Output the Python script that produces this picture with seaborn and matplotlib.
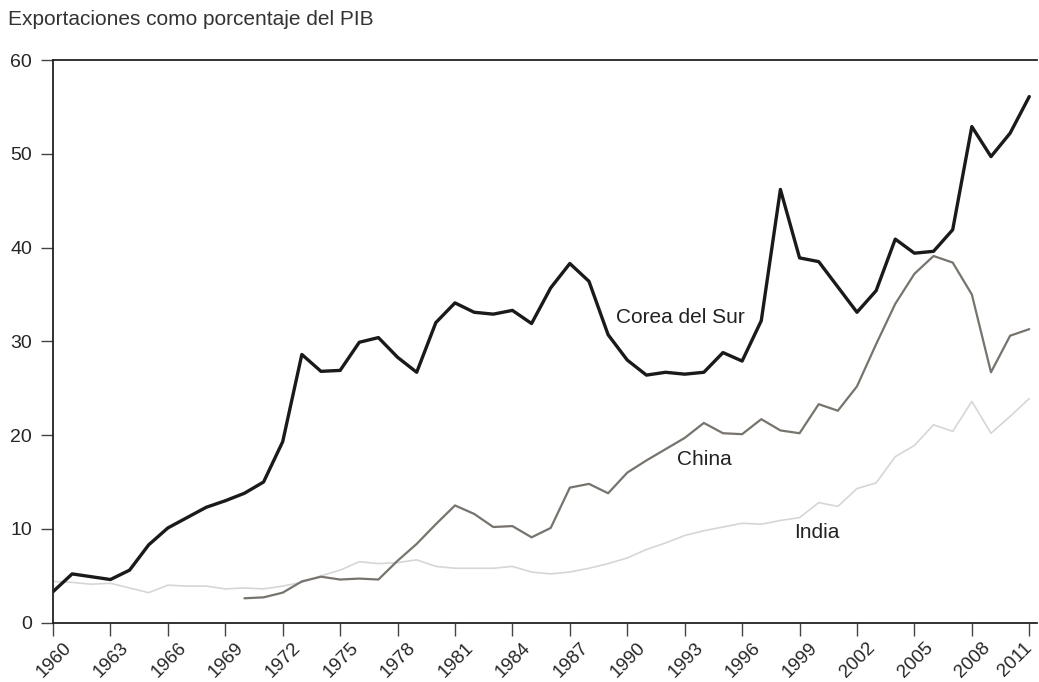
# Exportaciones como porcentaje del PIB: Corea del Sur, China, India

import pandas as pd
import numpy as np
import seaborn as sns
import matplotlib
matplotlib.use("Agg")
import matplotlib.pyplot as plt
from matplotlib.transforms import ScaledTranslation

# data
years = list(range(1960, 2012))

corea = [3.3, 5.2, 4.9, 4.6, 5.6, 8.3, 10.1, 11.2, 12.3, 13.0,
         13.8, 15.0, 19.3, 28.6, 26.8, 26.9, 29.9, 30.4, 28.3, 26.7,
         32.0, 34.1, 33.1, 32.9, 33.3, 31.9, 35.7, 38.3, 36.4, 30.7,
         28.0, 26.4, 26.7, 26.5, 26.7, 28.8, 27.9, 32.2, 46.2, 38.9,
         38.5, 35.8, 33.1, 35.4, 40.9, 39.4, 39.6, 41.9, 52.9, 49.7,
         52.2, 56.1]

china = [np.nan] * 10 + [
         2.6, 2.7, 3.2, 4.4, 4.9, 4.6, 4.7, 4.6, 6.6, 8.4,
         10.5, 12.5, 11.6, 10.2, 10.3, 9.1, 10.1, 14.4, 14.8, 13.8,
         16.0, 17.3, 18.5, 19.7, 21.3, 20.2, 20.1, 21.7, 20.5, 20.2,
         23.3, 22.6, 25.2, 29.7, 34.0, 37.2, 39.1, 38.4, 35.0, 26.7,
         30.6, 31.3]

india = [4.4, 4.3, 4.1, 4.2, 3.7, 3.2, 4.0, 3.9, 3.9, 3.6,
         3.7, 3.6, 3.9, 4.3, 5.0, 5.6, 6.5, 6.3, 6.4, 6.7,
         6.0, 5.8, 5.8, 5.8, 6.0, 5.4, 5.2, 5.4, 5.8, 6.3,
         6.9, 7.8, 8.5, 9.3, 9.8, 10.2, 10.6, 10.5, 10.9, 11.2,
         12.8, 12.4, 14.3, 14.9, 17.7, 18.9, 21.1, 20.4, 23.6, 20.2,
         22.0, 23.9]

tick_years = list(range(1960, 2009, 3)) + [2011]

df = pd.DataFrame({"year": years, "Corea del Sur": corea,
                   "China": china, "India": india})
long = df.melt(id_vars="year", var_name="pais", value_name="pct")

sns.set_style("white")
plt.rcParams["font.family"] = ["Liberation Sans", "DejaVu Sans"]

fig = plt.figure(figsize=(10.39, 6.82), dpi=100)
ax = fig.add_axes([0.051, 0.087, 0.947, 0.825])

colores = {"India": "#d6d6d6", "China": "#77736d", "Corea del Sur": "#1a1a1a"}
grosor = {"India": 1.2, "China": 1.6, "Corea del Sur": 2.4}
for pais in ["India", "China", "Corea del Sur"]:
    sns.lineplot(data=long[long.pais == pais], x="year", y="pct", ax=ax,
                 color=colores[pais], linewidth=grosor[pais], legend=False)

ax.set_xlim(1960, 2011.4)
ax.set_ylim(0, 60)
ax.set_yticks(range(0, 61, 10))
ax.set_xticks(tick_years)
ax.set_xticklabels([str(y) for y in tick_years], rotation=45, ha="right",
                   rotation_mode="anchor", fontsize=13.5)
ax.tick_params(axis="y", labelsize=14, pad=6)
ax.tick_params(axis="both", direction="out", length=9, width=1.0,
               color="#444444", left=True, bottom=True)
ax.tick_params(axis="x", pad=3)
ax.set_xlabel("")
ax.set_ylabel("")

# labels sit a little right of their tick, as in the original
etiquetas = ax.get_xticklabels()
for i, lab in enumerate(etiquetas):
    dx = 7 if i < len(etiquetas) - 1 else -4
    lab.set_transform(lab.get_transform() +
                      ScaledTranslation(dx / 72, 0, fig.dpi_scale_trans))

for s in ["left", "top", "bottom"]:
    ax.spines[s].set_color("#222222")
    ax.spines[s].set_linewidth(1.3)
ax.spines["right"].set_visible(False)

ax.text(1989.4, 32.5, "Corea del Sur", fontsize=15, color="#222222", va="center")
ax.text(1992.6, 17.4, "China", fontsize=15, color="#222222", va="center")
ax.text(1998.7, 9.6, "India", fontsize=15, color="#222222", va="center")

fig.text(0.008, 0.971, "Exportaciones como porcentaje del PIB",
         fontsize=15, color="#333333", va="center")

fig.savefig("out.png", dpi=100)
